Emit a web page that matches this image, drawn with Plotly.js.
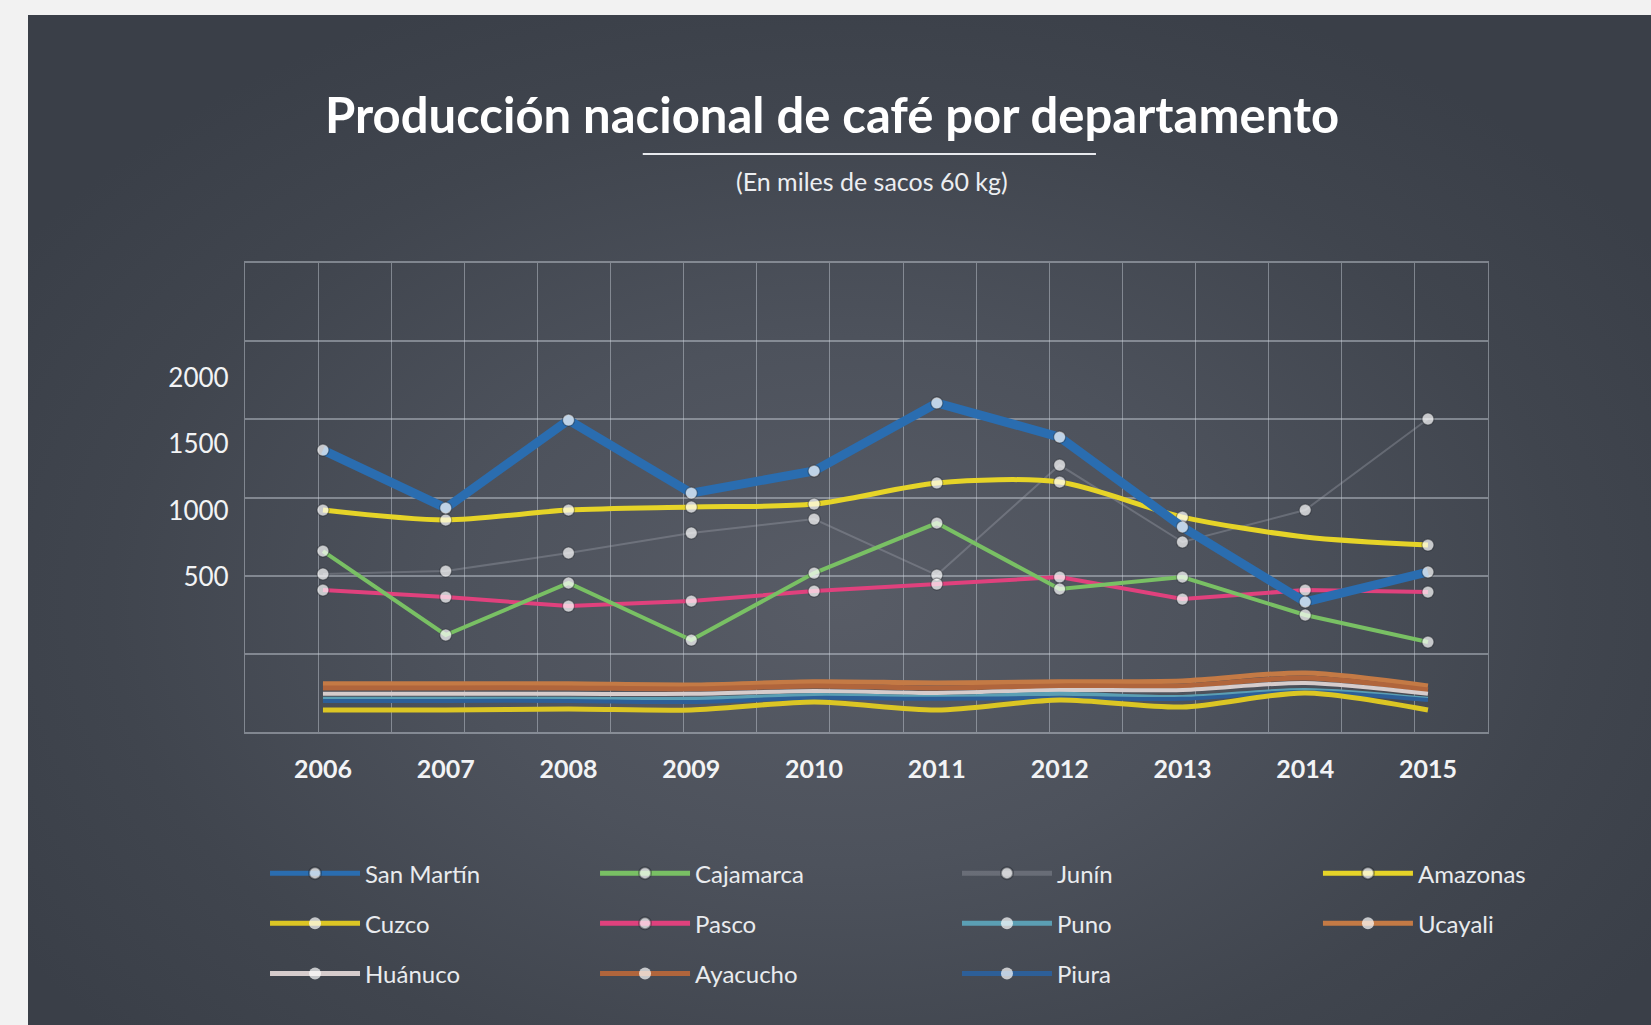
<!DOCTYPE html>
<html>
<head>
<meta charset="utf-8">
<script src="https://cdn.plot.ly/plotly-3.0.1.min.js"></script>
<style>
  html, body { margin: 0; padding: 0; width: 1651px; height: 1025px; overflow: hidden; background: #f2f2f2; }
  #panel { position: absolute; left: 28px; top: 15px; width: 1623px; height: 1010px;
    background: radial-gradient(ellipse 60% 65% at 50% 58%, #585c66 0%, #4d525c 40%, #40454e 75%, #3a3f48 100%); }
  #chart { position: absolute; left: 0; top: 0; width: 1651px; height: 1025px; }
</style>
</head>
<body>
<div id="panel"></div>
<div id="chart"></div>
<script>
// ---- data (miles de sacos de 60 kg) ----
const years = [2006, 2007, 2008, 2009, 2010, 2011, 2012, 2013, 2014, 2015];
const yTicks = [500, 1000, 1500, 2000];

// main series (upper area)
const sanMartin = [1457, 1020, 1683, 1133, 1299, 1812, 1555, 877, 312, 538];
const amazonas  = [1005, 930, 1005, 1028, 1050, 1209, 1216, 952, 802, 741];
const cajamarca = [696, 63, 455, 25, 530, 907, 410, 500, 214, 10];
const pasco     = [402, 349, 281, 319, 394, 447, 500, 334, 402, 387];
const junin     = [523, 545, 681, 832, 937, 515, 1344, 764, 1005, 1691];

// smaller series (lower band)
const ucayali   = [308, 308, 308, 301, 321, 314, 321, 327, 378, 295];
const ayacucho  = [282, 282, 282, 276, 295, 282, 295, 295, 346, 269];
const huanuco   = [244, 244, 244, 244, 263, 250, 269, 269, 314, 244];
const puno      = [212, 212, 212, 212, 237, 224, 244, 224, 269, 212];
const piura     = [199, 199, 199, 192, 218, 212, 218, 212, 256, 205];
const cuzco     = [141, 141, 147, 141, 192, 141, 205, 160, 250, 141];

const titleText = 'Producción nacional de café por departamento';
const subtitleText = '(En miles de sacos 60 kg)';

// legend layout: columns (one legend per column), rows in order
const legendColumns = [
  ['San Martín', 'Cuzco', 'Huánuco'],
  ['Cajamarca', 'Pasco', 'Ayacucho'],
  ['Junín', 'Puno', 'Piura'],
  ['Amazonas', 'Ucayali']
];

// ---- styling ----
const FONT = 'Lato, "Open Sans", sans-serif';
const dotSizes = (n, size, skip) => Array.from({length: n}, (_, i) => (skip && skip.includes(i)) ? 0 : size);
const whiteMarker = (sizes) => ({ color: '#ffffff', size: sizes, line: { color: 'rgba(20,24,30,0.5)', width: 1.2 } });
const legendOnlyMarker = (n) => ({ color: '#ffffff', size: dotSizes(n, 0.01), line: { width: 0 } });
const legendIds = ['legend', 'legend2', 'legend3', 'legend4'];

function tr(name, y, color, width, opts) {
  opts = opts || {};
  let col = 0, row = 0;
  legendColumns.forEach((c, ci) => { const r = c.indexOf(name); if (r >= 0) { col = ci; row = r; } });
  return {
    type: 'scatter', mode: 'lines+markers', name: name, x: years, y: y,
    line: { color: color, width: width, shape: opts.shape || 'linear', smoothing: 0.8 },
    marker: opts.marker || legendOnlyMarker(y.length),
    yaxis: opts.yaxis || 'y',
    legend: legendIds[col], legendgroup: name, legendrank: row + 1,
    hoverinfo: 'x+y+name'
  };
}

const traces = [
  // lower band (drawn first, underneath)
  tr('Ucayali',  ucayali,  '#c47a45', 5, { yaxis: 'y3', shape: 'spline' }),
  tr('Ayacucho', ayacucho, '#b0653c', 5, { yaxis: 'y3', shape: 'spline' }),
  tr('Huánuco',  huanuco,  '#d6cccc', 4, { yaxis: 'y3', shape: 'spline' }),
  tr('Puno',     puno,     '#5b9fb4', 4, { yaxis: 'y3', shape: 'spline' }),
  tr('Piura',    piura,    '#2d5f98', 4, { yaxis: 'y3', shape: 'spline' }),
  tr('Cuzco',    cuzco,    '#dcc624', 5, { yaxis: 'y3', shape: 'spline' }),
  // upper series
  tr('Junín',    junin,    'rgba(175,180,190,0.3)', 2, { marker: whiteMarker(dotSizes(10, 12)) }),
  tr('Pasco',    pasco,    '#e0417d', 4, { marker: whiteMarker(dotSizes(10, 12)) }),
  tr('Cajamarca',cajamarca,'#79c064', 4, { marker: whiteMarker(dotSizes(10, 12)) }),
  tr('Amazonas', amazonas, '#e6d428', 5, { marker: whiteMarker(dotSizes(10, 12, [8])), shape: 'spline' }),
  tr('San Martín', sanMartin, '#2a6db0', 9, { marker: whiteMarker(dotSizes(10, 12)) })
];

const legendX = [0.0161, 0.2816, 0.5728, 0.8632];
const legendCol = (x) => ({
  orientation: 'v', x: x, xanchor: 'left', y: -0.2538, yanchor: 'top',
  bgcolor: 'rgba(0,0,0,0)', borderwidth: 0,
  itemwidth: 90, itemsizing: 'constant', traceorder: 'grouped', tracegroupgap: 16,
  font: { family: FONT, size: 24, color: '#e9ebee' }, itemclick: false, itemdoubleclick: false
});

const gridColor = 'rgba(205,210,220,0.45)';
const xRange = [2005.365, 2015.489];

const layout = {
  width: 1651, height: 1025,
  paper_bgcolor: 'rgba(0,0,0,0)', plot_bgcolor: 'rgba(0,0,0,0)',
  margin: { l: 245, r: 163, t: 263, b: 293, pad: 0 },
  showlegend: true,
  title: { text: '<b>' + titleText + '</b>', x: 0.504, xanchor: 'center', y: 0.887, yanchor: 'middle',
           font: { family: FONT, size: 49, color: '#ffffff' } },
  xaxis: { range: xRange, tickmode: 'linear', tick0: years[0], dtick: 1, showgrid: false,
           zeroline: false, showline: true, mirror: true, linecolor: gridColor, linewidth: 1.8,
           ticks: '', ticklabelstandoff: 14,
           tickfont: { family: FONT, size: 25, color: '#f2f3f5', weight: 'bold' }, fixedrange: true,
           minor: { tickmode: 'linear', tick0: xRange[0], dtick: (xRange[1] - xRange[0]) / 17,
                    showgrid: true, gridcolor: gridColor, gridwidth: 1.2, ticks: '' } },
  yaxis: { range: [-668, 2867], tickvals: yTicks, showgrid: false, zeroline: false,
           showline: true, mirror: true, linecolor: gridColor, linewidth: 1.2,
           ticks: '', ticklabelstandoff: 10,
           tickfont: { family: FONT, size: 26, color: '#f2f3f5' }, fixedrange: true },
  yaxis3: { overlaying: 'y', anchor: 'x', range: [0, 3000], dtick: 500, showgrid: true, gridcolor: gridColor,
            gridwidth: 1.8, showticklabels: false, ticks: '', zeroline: false, showline: false, fixedrange: true },
  legend:  legendCol(legendX[0]),
  legend2: legendCol(legendX[1]),
  legend3: legendCol(legendX[2]),
  legend4: legendCol(legendX[3]),
  annotations: [
    { text: subtitleText, xref: 'paper', yref: 'paper', x: 0.5044, y: 1.1748, xanchor: 'center', yanchor: 'middle',
      showarrow: false, font: { family: FONT, size: 25, color: '#eceef1' } }
  ],
  shapes: [
    { type: 'line', xref: 'paper', yref: 'paper', x0: 0.320, x1: 0.6846, y0: 1.2324, y1: 1.2324,
      line: { color: '#e8eaee', width: 2 } }
  ],
  hovermode: 'closest'
};

Plotly.newPlot('chart', traces, layout, { displayModeBar: false, responsive: false });
</script>
</body>
</html>
